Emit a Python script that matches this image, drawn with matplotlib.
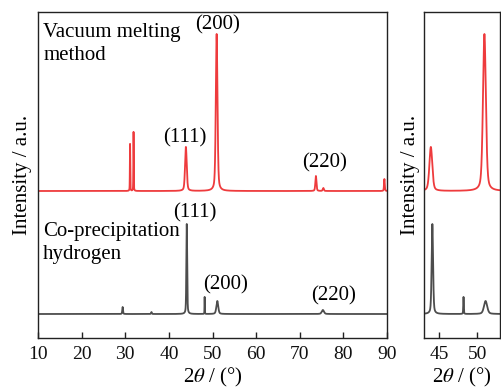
import numpy as np
import matplotlib
matplotlib.use("Agg")
import matplotlib.pyplot as plt

plt.rcParams["font.family"] = ["Liberation Serif", "DejaVu Serif"]
plt.rcParams["mathtext.fontset"] = "stix"

# Diffraction peaks: position (2θ, °), height above background (a.u.), FWHM (°)
vac_pos = [31.1, 31.9, 43.9, 50.95, 73.7, 75.4, 89.4]
vac_height = [47, 59, 44, 157, 15, 3, 12]
vac_fwhm = [0.10, 0.10, 0.45, 0.45, 0.30, 0.30, 0.20]
vac_background = 147

cop_pos = [29.4, 36.0, 44.1, 48.2, 51.1, 75.3]
cop_height = [7, 2, 90, 17, 13, 4]
cop_fwhm = [0.20, 0.20, 0.22, 0.08, 0.50, 0.60]
cop_background = 24

xticks_main = [10, 20, 30, 40, 50, 60, 70, 80, 90]
xticks_zoom = [45, 50]

RED = "#EE3B3D"
GREY = "#4D4D4D"


def pattern(two_theta, pos, height, fwhm, background):
    """Pseudo-Voigt peak sum on a flat background."""
    y = np.full_like(two_theta, background, dtype=float)
    for p, h, w in zip(pos, height, fwhm):
        g = np.exp(-4 * np.log(2) * ((two_theta - p) / w) ** 2)
        l = 1.0 / (1.0 + 4 * ((two_theta - p) / w) ** 2)
        y += h * (0.6 * g + 0.4 * l)
    return y


tt = np.arange(10, 90.001, 0.01)
y_vac = pattern(tt, vac_pos, vac_height, vac_fwhm, vac_background)
y_cop = pattern(tt, cop_pos, cop_height, cop_fwhm, cop_background)

fig = plt.figure(figsize=(5.02, 3.90), dpi=100)
W, H = 502, 390
ax = fig.add_axes([38 / W, 52 / H, 349 / W, 326 / H])
ax2 = fig.add_axes([424 / W, 52 / H, 76 / W, 326 / H])

for a in (ax, ax2):
    a.plot(tt, y_vac, color=RED, lw=1.3)
    a.plot(tt, y_cop, color=GREY, lw=1.3)
    a.set_ylim(0, 326)
    a.set_yticks([])
    for s in a.spines.values():
        s.set_linewidth(1.0)
        s.set_color("#222222")
    a.tick_params(axis="x", direction="in", length=4, width=1.0,
                  labelsize=14, pad=6, colors="#222222")
    a.tick_params(axis="x", labelcolor="#111111")
    a.set_ylabel("Intensity / a.u.", fontsize=15, labelpad=4)
    a.set_xlabel(r"2$\theta$ / (°)", fontsize=15, labelpad=2)

ax.set_xlim(10, 90)
ax.set_xticks(xticks_main)
ax2.set_xlim(43, 53)
ax2.set_xticks(xticks_zoom)
ax2.set_ylabel("Intensity / a.u.", fontsize=15, labelpad=3)

fs = 15
ax.text(11.2, 315, "Vacuum melting\nmethod", fontsize=fs, ha="left", va="top",
        linespacing=1.25)
ax.text(11.2, 116, "Co-precipitation\nhydrogen", fontsize=fs, ha="left", va="top",
        linespacing=1.25)

# Miller indices
ax.text(51.1, 313, "(200)", fontsize=fs, ha="center", va="center")
ax.text(43.6, 200, "(111)", fontsize=fs, ha="center", va="center")
ax.text(75.6, 175, "(220)", fontsize=fs, ha="center", va="center")
ax.text(46.0, 125, "(111)", fontsize=fs, ha="center", va="center")
ax.text(53.1, 53, "(200)", fontsize=fs, ha="center", va="center")
ax.text(77.7, 42, "(220)", fontsize=fs, ha="center", va="center")

fig.savefig("out.png", dpi=100)
